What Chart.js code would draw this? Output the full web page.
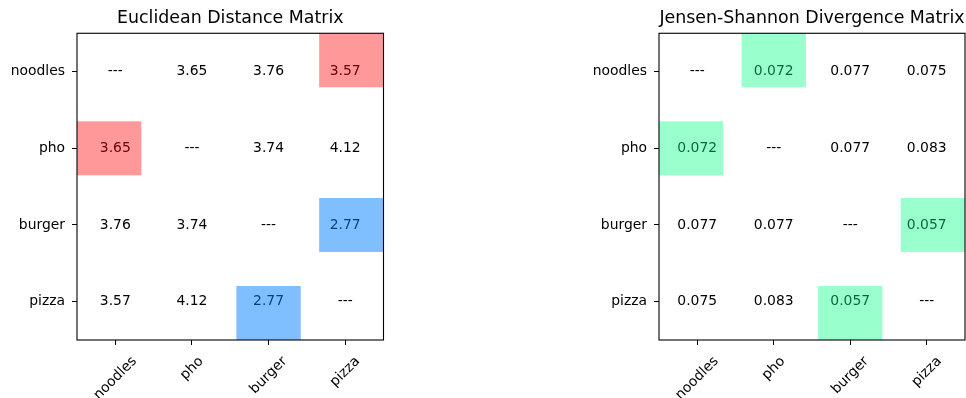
<!DOCTYPE html>
<html>
<head>
<meta charset="utf-8">
<script src="https://cdn.jsdelivr.net/npm/chart.js@4.4.1/dist/chart.umd.min.js"></script>
<style>
  html, body { margin: 0; padding: 0; background: #fff; }
  #wrap { position: relative; width: 966px; height: 398px; overflow: hidden; }
  canvas { position: absolute; top: 0; }
</style>
</head>
<body>
<div id="wrap">
  <canvas id="euclidChart" width="420" height="398" style="left:0"></canvas>
  <canvas id="jsChart" width="406" height="398" style="left:560px"></canvas>
</div>
<script>
const foods = ["noodles", "pho", "burger", "pizza"];

// one row per food, null on the diagonal
const euclidNoodles = [null, 3.65, 3.76, 3.57];
const euclidPho = [3.65, null, 3.74, 4.12];
const euclidBurger = [3.76, 3.74, null, 2.77];
const euclidPizza = [3.57, 4.12, 2.77, null];

const jsNoodles = [null, 0.072, 0.077, 0.075];
const jsPho = [0.072, null, 0.077, 0.083];
const jsBurger = [0.077, 0.077, null, 0.057];
const jsPizza = [0.075, 0.083, 0.057, null];

// highlighted cells as [row, col]
const euclidRed = [[0, 3], [1, 0]];
const euclidBlue = [[2, 3], [3, 2]];
const jsGreen = [[0, 1], [1, 0], [2, 3], [3, 2]];

Chart.defaults.font.family = "'DejaVu Sans', sans-serif";
Chart.defaults.color = "#000";

function toPoints(rows) {
  const pts = [];
  rows.forEach((row, r) => row.forEach((v, c) => pts.push({ x: c, y: r, v: v })));
  return pts;
}

const matrixPlugin = {
  id: "matrix",
  afterDatasetsDraw(chart, args, opts) {
    const { ctx, scales: { x, y } } = chart;
    const meta = chart.getDatasetMeta(0);
    const pts = chart.data.datasets[0].data;
    const last = foods.length - 1;
    ctx.save();
    ctx.font = "13.9px 'DejaVu Sans'";
    ctx.fillStyle = "#000";
    ctx.textAlign = "center";
    ctx.textBaseline = "middle";
    meta.data.forEach((el, i) => {
      const v = pts[i].v;
      ctx.fillText(v === null ? "---" : v.toFixed(opts.digits), el.x, el.y);
    });
    // boxes sit on top of the numbers; edge cells go flush with the frame
    opts.boxes.forEach(b => {
      ctx.fillStyle = b.color;
      b.cells.forEach(([r, c]) => {
        let x0 = c - 0.42, x1 = c + 0.42, y0 = r - 0.352, y1 = r + 0.352;
        if (c === 0) { x0 = -0.5; x1 = x0 + 0.84; }
        if (c === last) { x1 = last + 0.5; x0 = x1 - 0.84; }
        if (r === 0) { y0 = -0.5; y1 = y0 + 0.704; }
        if (r === last) { y1 = last + 0.5; y0 = y1 - 0.704; }
        const px0 = x.getPixelForValue(x0), px1 = x.getPixelForValue(x1);
        const py0 = y.getPixelForValue(y0), py1 = y.getPixelForValue(y1);
        ctx.fillRect(Math.min(px0, px1), Math.min(py0, py1), Math.abs(px1 - px0), Math.abs(py1 - py0));
      });
    });
    ctx.restore();
  },
  afterDraw(chart) {
    const { ctx, chartArea: a, scales: { x } } = chart;
    ctx.save();
    ctx.strokeStyle = "#000";
    ctx.lineWidth = 1.1;
    ctx.strokeRect(a.left, a.top, a.right - a.left, a.bottom - a.top);
    // x labels rotated 45deg and centred on their tick, like matplotlib
    ctx.font = "13.9px 'DejaVu Sans'";
    ctx.fillStyle = "#000";
    ctx.textAlign = "center";
    ctx.textBaseline = "middle";
    foods.forEach((f, i) => {
      const px = x.getPixelForValue(i);
      const w = ctx.measureText(f).width;
      const cy = a.bottom + 13.5 + (w + 16) * Math.SQRT1_2 / 2;
      ctx.save();
      ctx.translate(px, cy);
      ctx.rotate(-Math.PI / 4);
      ctx.fillText(f, 0, 0);
      ctx.restore();
    });
    ctx.restore();
  }
};

function makeChart(el, title, rows, digits, boxes, yWidth, padRight) {
  return new Chart(document.getElementById(el), {
    type: "scatter",
    data: {
      datasets: [{ data: toPoints(rows), pointRadius: 0, pointHoverRadius: 0 }]
    },
    options: {
      responsive: false,
      animation: false,
      devicePixelRatio: 1,
      layout: { padding: { left: 0, right: padRight, top: 0, bottom: 0 } },
      scales: {
        x: {
          type: "linear", min: -0.5, max: 3.5,
          afterBuildTicks: s => { s.ticks = foods.map((_, i) => ({ value: i })); },
          afterFit: s => { s.height = 58; },
          ticks: { display: false },
          grid: { drawOnChartArea: false, tickLength: 5, color: "#000" },
          border: { display: false }
        },
        y: {
          type: "linear", min: -0.5, max: 3.5, reverse: true,
          afterBuildTicks: s => { s.ticks = foods.map((_, i) => ({ value: i })); },
          afterFit: s => { s.width = yWidth; },
          ticks: { callback: v => foods[v], padding: 7, color: "#000", font: { size: 13.9 } },
          grid: { drawOnChartArea: false, tickLength: 5, color: "#000" },
          border: { display: false }
        }
      },
      plugins: {
        legend: { display: false },
        tooltip: { enabled: false },
        title: {
          display: true, text: title, fullSize: false, color: "#000",
          font: { size: 17.4, weight: "normal" },
          padding: { top: 8.5, bottom: 3.9 }
        },
        matrix: { digits: digits, boxes: boxes }
      }
    },
    plugins: [matrixPlugin]
  });
}

makeChart("euclidChart", "Euclidean Distance Matrix",
  [euclidNoodles, euclidPho, euclidBurger, euclidPizza], 2,
  [{ cells: euclidRed, color: "rgba(255, 0, 0, 0.4)" },
   { cells: euclidBlue, color: "rgba(0, 128, 255, 0.5)" }],
  77, 36.5);

makeChart("jsChart", "Jensen-Shannon Divergence Matrix",
  [jsNoodles, jsPho, jsBurger, jsPizza], 3,
  [{ cells: jsGreen, color: "rgba(0, 255, 128, 0.4)" }],
  99, 1);
</script>
</body>
</html>
